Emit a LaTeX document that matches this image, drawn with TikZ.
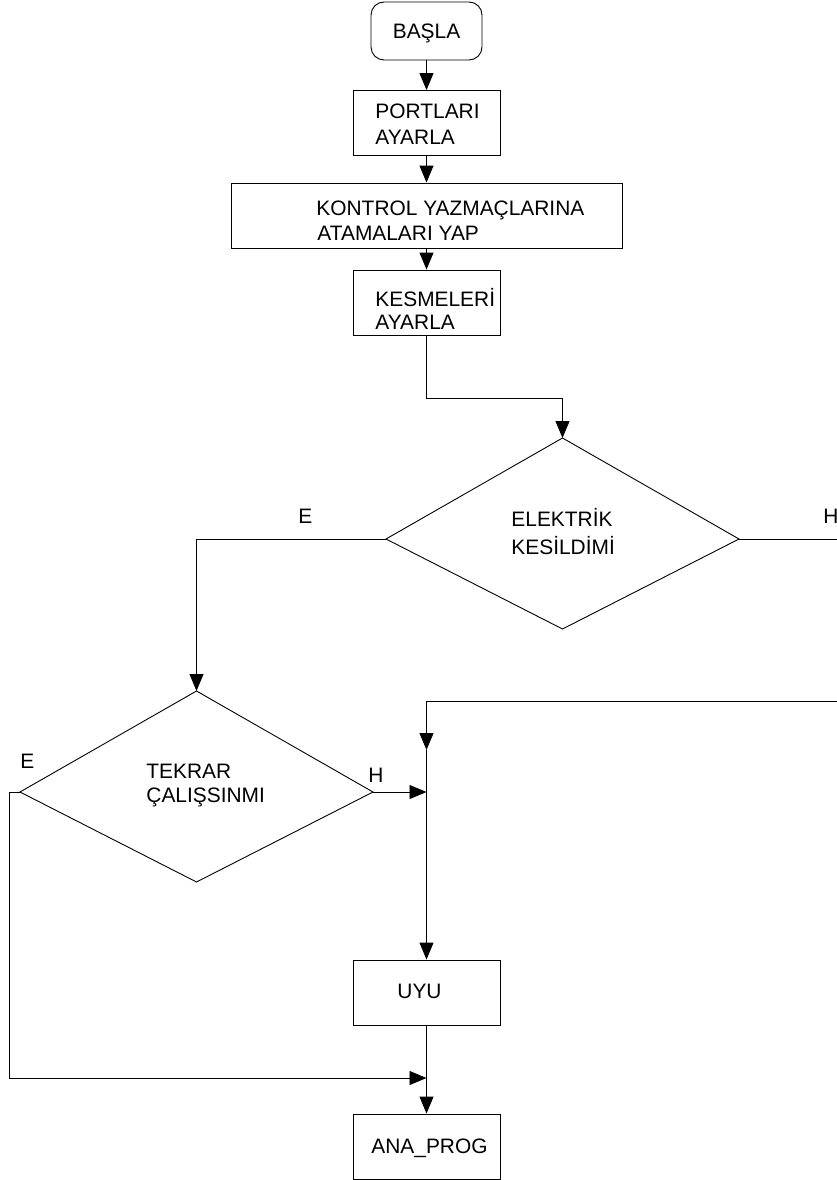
\documentclass[tikz,border=0pt]{standalone}
\usepackage{fontspec}
\setmainfont{Liberation Sans}
\usetikzlibrary{arrows.meta}
\begin{document}
\begin{tikzpicture}[x=1pt,y=-1pt,
  line width=0.9pt,
  box/.style={draw,rectangle,inner sep=0pt,minimum width=147pt,minimum height=65pt},
  txt/.style={anchor=base west,inner sep=0pt,font=\fontsize{20.9}{24}\selectfont},
  arr/.style={-{Triangle[length=17pt,width=14pt]}}]
\useasboundingbox (0,0) rectangle (837,1180);

% process boxes
\node[draw,rounded corners=13pt,minimum width=111pt,minimum height=58pt,inner sep=0pt] (basla) at (426.5,31) {};
\node[box] (portlari) at (426.5,123) {};
\node[box,minimum width=391pt] (kontrol) at (426.5,215.5) {};
\node[box] (kesme) at (426.5,302.5) {};
\node[box] (uyu) at (426.5,992.5) {};
\node[box] (anaprog) at (426.5,1146.5) {};

% decision shapes (side corners sit below the middle)
\coordinate (d1n) at (562.5,438);
\coordinate (d1w) at (386,539);
\coordinate (d1e) at (739,539);
\coordinate (d1s) at (562.5,629);
\draw (d1n) -- (d1e) -- (d1s) -- (d1w) -- cycle;
\coordinate (d2n) at (196.5,691);
\coordinate (d2w) at (20,792);
\coordinate (d2e) at (373,792);
\coordinate (d2s) at (196.5,882);
\draw (d2n) -- (d2e) -- (d2s) -- (d2w) -- cycle;

% texts
\node[txt,anchor=base] (t0) at (426.5,39) {BAŞLA};
\node[txt] (t1a) at (375,119) {PORTLARI};
\node[txt] (t1b) at (375,145) {AYARLA};
\node[txt] (t2a) at (316,215) {KONTROL YAZMAÇLARINA};
\node[txt] (t2b) at (317,240) {ATAMALARI YAP};
\node[txt] (t3a) at (375,306) {KESMELERİ};
\node[txt] (t3b) at (375,329) {AYARLA};
\node[txt] (t4a) at (511,526) {ELEKTRİK};
\node[txt] (t4b) at (511,554) {KESİLDİMİ};
\node[txt] (t5a) at (146,778) {TEKRAR};
\node[txt] (t5b) at (146,802) {ÇALIŞSINMI};
\node[txt] (t6) at (397,998) {UYU};
\node[txt] (t7) at (371,1153) {ANA\_PROG};

% branch labels
\node[txt] (e1) at (298,523) {E};
\node[txt] (h1) at (823,523) {H};
\node[txt] (e2) at (20,768) {E};
\node[txt] (h2) at (368,782) {H};

% junction points
\coordinate (k1) at (426.5,398);
\coordinate (h1end) at (837,539);
\coordinate (rin) at (837,701);
\coordinate (rturn) at (426.5,701);
\coordinate (rmid) at (426.5,750);
\coordinate (hjoin) at (426.5,792);
\coordinate (eleft) at (9,792);
\coordinate (ebot) at (9,1078);
\coordinate (ejoin) at (426.5,1078);

% connectors
\draw[arr] (basla) -- (portlari);
\draw[arr] (portlari) -- (kontrol);
\draw[arr] (kontrol) -- (kesme);
\draw[arr] (kesme.south) -- (k1) -| (d1n);
\draw[arr] (d1w) -| (d2n);
\draw (d1e) -- (h1end);
\draw[arr] (rin) -- (rturn) -- (rmid);
\draw[arr] (rmid) -- (uyu.north);
\draw[arr] (d2e) -- (hjoin);
\draw[arr] (d2w) -- (eleft) -- (ebot) -- (ejoin);
\draw[arr] (uyu) -- (anaprog);
\end{tikzpicture}
\end{document}
